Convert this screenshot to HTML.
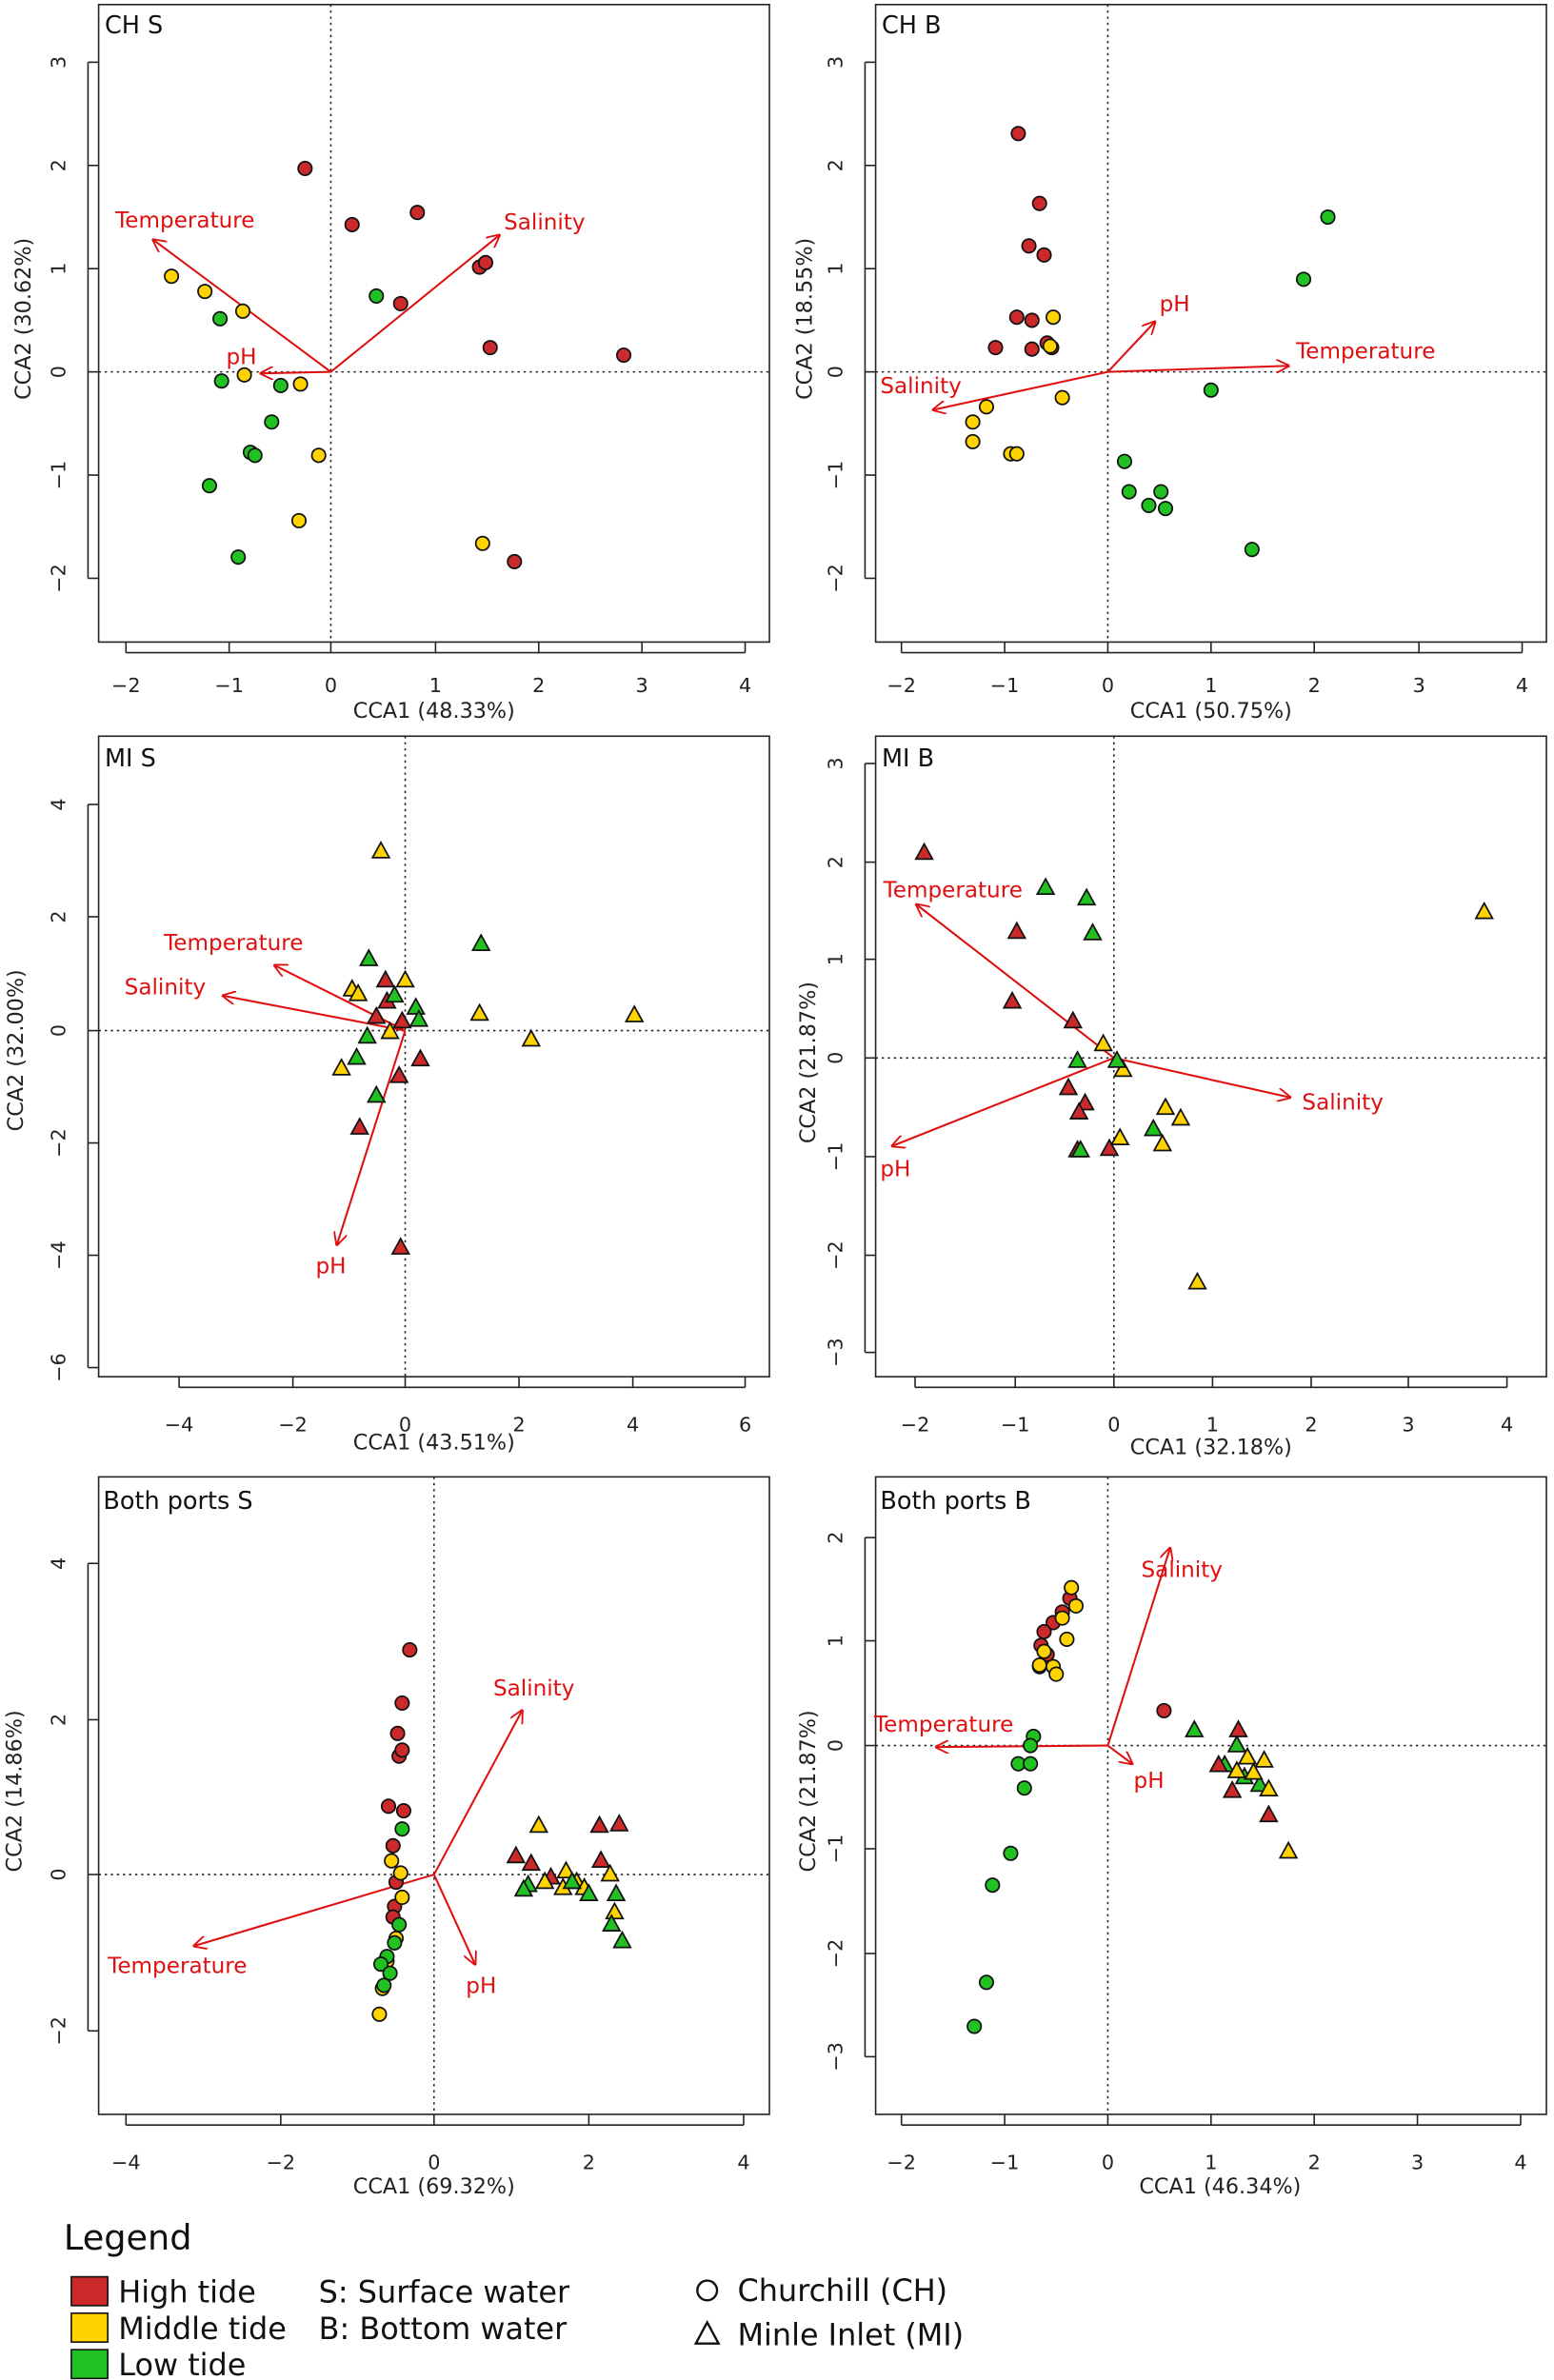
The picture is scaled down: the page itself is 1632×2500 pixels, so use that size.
<!DOCTYPE html>
<html><head><meta charset="utf-8"><style>
html,body{margin:0;padding:0;background:#fff}
svg{display:block}
text{font-family:"DejaVu Sans","Liberation Sans",sans-serif}
.t{font-size:13px;fill:#222;text-anchor:middle}
.a{font-size:14px;fill:#222;text-anchor:middle}
.r{font-size:14.5px;fill:#e01010}
.p{font-size:16px;fill:#111}
.l{font-size:20px;fill:#111}
</style></head><body>
<svg id="s" width="1632" height="2500" viewBox="0 0 1024 1568" preserveAspectRatio="none" xmlns="http://www.w3.org/2000/svg">
<defs><marker id="ah" viewBox="0 0 10 10" refX="9" refY="5" markerWidth="9" markerHeight="9" orient="auto" markerUnits="userSpaceOnUse"><path d="M0,0 L10,5 L0,10" fill="none" stroke="#e01010" stroke-width="1.3"/></marker></defs>
<g id="g"></g>
<!-- Panel 1 -->
<text class="p" x="69" y="22">CH S</text>
<text class="t" x="83" y="456">−2</text><text class="t" x="151" y="456">−1</text><text class="t" x="218" y="456">0</text><text class="t" x="287" y="456">1</text><text class="t" x="355" y="456">2</text><text class="t" x="423" y="456">3</text><text class="t" x="491" y="456">4</text>
<text class="a" x="286" y="473">CCA1 (48.33%)</text>
<g class="t"><text class="t" transform="translate(43,41) rotate(-90)">3</text><text class="t" transform="translate(43,109) rotate(-90)">2</text><text class="t" transform="translate(43,177) rotate(-90)">1</text><text class="t" transform="translate(43,245) rotate(-90)">0</text><text class="t" transform="translate(43,313) rotate(-90)">−1</text><text class="t" transform="translate(43,381) rotate(-90)">−2</text></g>
<text class="a" transform="translate(20,210) rotate(-90)">CCA2 (30.62%)</text>
<text class="r" x="76" y="150">Temperature</text><text class="r" x="332" y="151">Salinity</text><text class="r" x="149" y="240">pH</text>
<!-- Panel 2 -->
<text class="p" x="581" y="22">CH B</text>
<text class="t" x="594" y="456">−2</text><text class="t" x="662" y="456">−1</text><text class="t" x="730" y="456">0</text><text class="t" x="798" y="456">1</text><text class="t" x="866" y="456">2</text><text class="t" x="935" y="456">3</text><text class="t" x="1003" y="456">4</text>
<text class="a" x="798" y="473">CCA1 (50.75%)</text>
<text class="t" transform="translate(555,41) rotate(-90)">3</text><text class="t" transform="translate(555,109) rotate(-90)">2</text><text class="t" transform="translate(555,177) rotate(-90)">1</text><text class="t" transform="translate(555,245) rotate(-90)">0</text><text class="t" transform="translate(555,313) rotate(-90)">−1</text><text class="t" transform="translate(555,381) rotate(-90)">−2</text>
<text class="a" transform="translate(535,210) rotate(-90)">CCA2 (18.55%)</text>
<text class="r" x="764" y="205">pH</text><text class="r" x="854" y="236">Temperature</text><text class="r" x="580" y="259">Salinity</text>
<!-- Panel 3 -->
<text class="p" x="69" y="505">MI S</text>
<text class="t" x="118" y="943">−4</text><text class="t" x="193" y="943">−2</text><text class="t" x="267" y="943">0</text><text class="t" x="342" y="943">2</text><text class="t" x="417" y="943">4</text><text class="t" x="491" y="943">6</text>
<text class="a" x="286" y="955">CCA1 (43.51%)</text>
<text class="t" transform="translate(43,530) rotate(-90)">4</text><text class="t" transform="translate(43,604) rotate(-90)">2</text><text class="t" transform="translate(43,679) rotate(-90)">0</text><text class="t" transform="translate(43,753) rotate(-90)">−2</text><text class="t" transform="translate(43,827) rotate(-90)">−4</text><text class="t" transform="translate(43,901) rotate(-90)">−6</text>
<text class="a" transform="translate(15,692) rotate(-90)">CCA2 (32.00%)</text>
<text class="r" x="108" y="626">Temperature</text><text class="r" x="82" y="655">Salinity</text><text class="r" x="208" y="839">pH</text>
<!-- Panel 4 -->
<text class="p" x="581" y="505">MI B</text>
<text class="t" x="603" y="943">−2</text><text class="t" x="669" y="943">−1</text><text class="t" x="734" y="943">0</text><text class="t" x="799" y="943">1</text><text class="t" x="864" y="943">2</text><text class="t" x="928" y="943">3</text><text class="t" x="993" y="943">4</text>
<text class="a" x="798" y="958">CCA1 (32.18%)</text>
<text class="t" transform="translate(555,503) rotate(-90)">3</text><text class="t" transform="translate(555,568) rotate(-90)">2</text><text class="t" transform="translate(555,632) rotate(-90)">1</text><text class="t" transform="translate(555,697) rotate(-90)">0</text><text class="t" transform="translate(555,762) rotate(-90)">−1</text><text class="t" transform="translate(555,827) rotate(-90)">−2</text><text class="t" transform="translate(555,891) rotate(-90)">−3</text>
<text class="a" transform="translate(537,700) rotate(-90)">CCA2 (21.87%)</text>
<text class="r" x="582" y="591">Temperature</text><text class="r" x="858" y="731">Salinity</text><text class="r" x="580" y="775">pH</text>
<!-- Panel 5 -->
<text class="p" x="68" y="994">Both ports S</text>
<text class="t" x="83" y="1429">−4</text><text class="t" x="185" y="1429">−2</text><text class="t" x="286" y="1429">0</text><text class="t" x="388" y="1429">2</text><text class="t" x="490" y="1429">4</text>
<text class="a" x="286" y="1445">CCA1 (69.32%)</text>
<text class="t" transform="translate(43,1030) rotate(-90)">4</text><text class="t" transform="translate(43,1133) rotate(-90)">2</text><text class="t" transform="translate(43,1235) rotate(-90)">0</text><text class="t" transform="translate(43,1338) rotate(-90)">−2</text>
<text class="a" transform="translate(14,1180) rotate(-90)">CCA2 (14.86%)</text>
<text class="r" x="325" y="1117">Salinity</text><text class="r" x="71" y="1300">Temperature</text><text class="r" x="307" y="1313">pH</text>
<!-- Panel 6 -->
<text class="p" x="580" y="994">Both ports B</text>
<text class="t" x="594" y="1429">−2</text><text class="t" x="662" y="1429">−1</text><text class="t" x="730" y="1429">0</text><text class="t" x="798" y="1429">1</text><text class="t" x="866" y="1429">2</text><text class="t" x="934" y="1429">3</text><text class="t" x="1002" y="1429">4</text>
<text class="a" x="804" y="1445">CCA1 (46.34%)</text>
<text class="t" transform="translate(555,1013) rotate(-90)">2</text><text class="t" transform="translate(555,1081) rotate(-90)">1</text><text class="t" transform="translate(555,1150) rotate(-90)">0</text><text class="t" transform="translate(555,1218) rotate(-90)">−1</text><text class="t" transform="translate(555,1287) rotate(-90)">−2</text><text class="t" transform="translate(555,1355) rotate(-90)">−3</text>
<text class="a" transform="translate(537,1180) rotate(-90)">CCA2 (21.87%)</text>
<text class="r" x="752" y="1039">Salinity</text><text class="r" x="576" y="1141">Temperature</text><text class="r" x="747" y="1178">pH</text>
<!-- Legend -->
<text x="42" y="1482" style="font-size:23px;fill:#111">Legend</text>
<rect x="47" y="1500" width="24" height="19" fill="#cc2a2a" stroke="#111"/>
<rect x="47" y="1524" width="24" height="19" fill="#ffd200" stroke="#111"/>
<rect x="47" y="1548" width="24" height="19" fill="#22c122" stroke="#111"/>
<text class="l" x="78" y="1517">High tide</text><text class="l" x="78" y="1541">Middle tide</text><text class="l" x="78" y="1565">Low tide</text>
<text class="l" x="210" y="1517">S: Surface water</text><text class="l" x="210" y="1541">B: Bottom water</text>
<circle cx="466" cy="1509" r="6.5" fill="none" stroke="#111" stroke-width="1.5"/>
<path d="M466,1530 L473.5,1544 L458.5,1544 Z" fill="none" stroke="#111" stroke-width="1.5"/>
<text class="l" x="486" y="1516">Churchill (CH)</text><text class="l" x="486" y="1545">Minle Inlet (MI)</text>
</svg>
<script>
const g=document.getElementById('g');const NS='http://www.w3.org/2000/svg';
function el(t,a){const e=document.createElementNS(NS,t);for(const k in a)e.setAttribute(k,a[k]);g.appendChild(e);return e;}
const C={r:'#cc2a2a',y:'#ffd200',g:'#22c122'};
function panel(x0,y0,x1,y1,xt,yt,ox,oy){
 el('rect',{x:x0,y:y0,width:x1-x0,height:y1-y0,fill:'none',stroke:'#222','stroke-width':1});
 el('line',{x1:ox,y1:y0,x2:ox,y2:y1,stroke:'#222','stroke-dasharray':'1.5,2.5','stroke-width':1});
 el('line',{x1:x0,y1:oy,x2:x1,y2:oy,stroke:'#222','stroke-dasharray':'1.5,2.5','stroke-width':1});
 xt.forEach(v=>el('line',{x1:v,y1:y1,x2:v,y2:y1+7,stroke:'#222'}));
 el('line',{x1:xt[0],y1:y1+7,x2:xt[xt.length-1],y2:y1+7,stroke:'#222'});
 yt.forEach(v=>el('line',{x1:x0,y1:v,x2:x0-7,y2:v,stroke:'#222'}));
 el('line',{x1:x0-7,y1:yt[0],x2:x0-7,y2:yt[yt.length-1],stroke:'#222'});
}
function arr(ox,oy,list){list.forEach(p=>el('line',{x1:ox,y1:oy,x2:p[0],y2:p[1],stroke:'#e01010','stroke-width':1.3,'marker-end':'url(#ah)'}));}
function pts(sh,col,list){list.forEach(p=>{
 if(sh=='c')el('circle',{cx:p[0],cy:p[1],r:4.5,fill:C[col],stroke:'#111','stroke-width':1.1});
 else el('path',{d:`M${p[0]},${p[1]-6} L${p[0]+5.5},${p[1]+4} L${p[0]-5.5},${p[1]+4} Z`,fill:C[col],stroke:'#111','stroke-width':1.1});});}
// P1
panel(65,3,507,423,[83,151,218,287,355,423,491],[41,109,177,245,313,381],218,245);
arr(218,245,[[101,158],[329,155],[172,246]]);
pts('c','r',[[201,111],[232,148],[275,140],[264,200],[316,176],[320,173],[323,229],[411,234],[339,370]]);
pts('c','y',[[113,182],[135,192],[160,205],[161,247],[198,253],[210,300],[197,343],[318,358]]);
pts('c','g',[[145,210],[146,251],[185,254],[248,195],[179,278],[165,298],[168,300],[138,320],[157,367]]);
// P2
panel(577,3,1019,423,[594,662,730,798,866,935,1003],[41,109,177,245,313,381],730,245);
arr(730,245,[[761,212],[849,241],[615,270]]);
pts('c','r',[[671,88],[685,134],[678,162],[688,168],[670,209],[680,211],[656,229],[680,230],[690,226],[693,229]]);
pts('c','y',[[694,209],[650,268],[641,278],[641,291],[700,262],[666,299],[670,299],[692,228]]);
pts('c','g',[[875,143],[859,184],[798,257],[741,304],[744,324],[757,333],[765,324],[768,335],[825,362]]);
// P3
panel(65,485,507,907,[118,193,267,342,417,491],[530,604,679,753,827,901],267,679);
arr(267,679,[[181,636],[147,656],[222,820]]);
pts('t','r',[[254,646],[255,660],[248,670],[265,673],[277,698],[263,709],[237,743],[264,822]]);
pts('t','y',[[251,561],[232,652],[267,646],[236,655],[257,680],[225,704],[316,668],[350,685],[418,669]]);
pts('t','g',[[243,632],[260,656],[274,664],[276,672],[242,683],[235,697],[248,722],[317,622]]);
// P4
panel(577,485,1019,907,[603,669,734,799,864,928,993],[503,568,632,697,762,827,891],734,697);
arr(734,697,[[604,596],[850,723],[588,755]]);
pts('t','r',[[609,562],[670,614],[667,660],[707,673],[704,717],[715,727],[711,733],[731,757],[710,758]]);
pts('t','y',[[978,601],[727,688],[740,705],[768,730],[778,737],[738,750],[766,754],[789,845]]);
pts('t','g',[[689,585],[716,592],[720,615],[710,699],[736,699],[760,744],[712,758]]);
// P5
panel(65,973,507,1393,[83,185,286,388,490],[1030,1133,1235,1338],286,1235);
arr(286,1235,[[344,1127],[128,1282],[313,1294]]);
pts('c','r',[[270,1087],[265,1122],[262,1142],[263,1157],[265,1153],[256,1190],[266,1193],[259,1216],[261,1240],[260,1256],[259,1263]]);
pts('c','y',[[258,1226],[264,1234],[265,1250],[261,1277],[255,1292],[252,1310],[250,1327]]);
pts('c','g',[[265,1205],[263,1268],[260,1280],[255,1289],[251,1294],[253,1308],[257,1300]]);
pts('t','r',[[395,1203],[408,1202],[340,1223],[350,1228],[396,1226],[363,1237]]);
pts('t','y',[[355,1203],[373,1233],[380,1240],[402,1235],[405,1260],[371,1244],[359,1240],[385,1244]]);
pts('t','g',[[348,1242],[345,1245],[388,1248],[406,1248],[403,1268],[410,1279],[377,1240]]);
// P6
panel(577,973,1019,1393,[594,662,730,798,866,934,1002],[1013,1081,1150,1218,1287,1355],730,1150);
arr(730,1150,[[771,1020],[617,1151],[746,1162]]);
pts('c','r',[[705,1053],[700,1062],[694,1069],[688,1075],[686,1084],[690,1090],[685,1098],[767,1127]]);
pts('c','y',[[706,1046],[709,1058],[700,1066],[703,1080],[688,1088],[694,1098],[685,1097],[696,1103]]);
pts('c','g',[[681,1144],[679,1150],[671,1162],[679,1162],[675,1178],[666,1221],[654,1242],[650,1306],[642,1335]]);
pts('t','g',[[787,1140],[815,1150],[807,1163],[820,1171],[830,1176]]);
pts('t','r',[[816,1140],[803,1163],[812,1180],[836,1196]]);
pts('t','y',[[822,1158],[833,1160],[826,1168],[815,1167],[836,1179],[849,1220]]);
</script>
</body></html>
